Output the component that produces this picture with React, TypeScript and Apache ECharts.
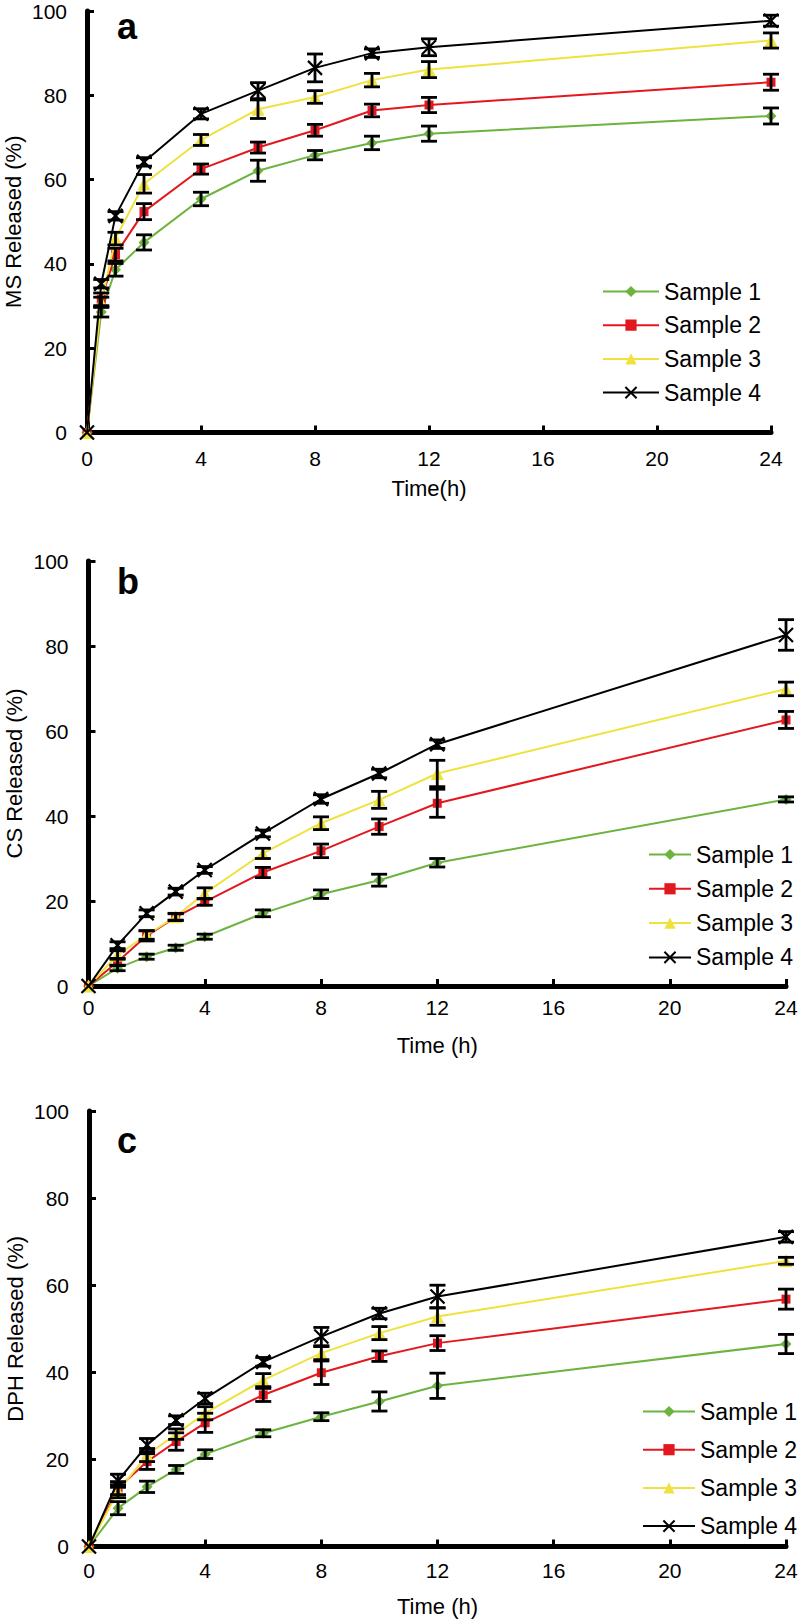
import React, { useEffect, useRef } from "react";
import * as echarts from "echarts";

const FONT = "'Liberation Sans', Arial, sans-serif";

const SAMPLE_NAMES = ["Sample 1", "Sample 2", "Sample 3", "Sample 4"];
const X_TICKS = [0, 4, 8, 12, 16, 20, 24];
const Y_TICKS = [0, 20, 40, 60, 80, 100];

// Panel a: MS
const TIME_A = [0, 0.5, 1, 2, 4, 6, 8, 10, 12, 24];
const MS_S1 = [0, 28.6, 38.6, 45.1, 55.4, 62.1, 65.8, 68.7, 70.9, 75.1];
const MS_S2 = [0, 31.6, 42.2, 52.4, 62.5, 67.6, 71.7, 76.4, 77.7, 83.1];
const MS_S3 = [0, 30.9, 46.0, 59.0, 69.4, 76.7, 79.6, 83.6, 86.1, 93.0];
const MS_S4 = [0, 35.3, 51.4, 64.2, 75.6, 81.1, 86.5, 90.0, 91.4, 97.7];
const MS_E1 = [0, 1.2, 1.5, 1.8, 1.6, 2.5, 1.1, 1.6, 1.8, 1.9];
const MS_E2 = [0, 1.5, 1.5, 1.9, 1.2, 1.3, 1.4, 1.5, 1.8, 1.9];
const MS_E3 = [0, 1.2, 1.5, 2.2, 1.3, 2.2, 1.5, 1.6, 1.9, 1.8];
const MS_E4 = [0, 1.0, 1.0, 1.0, 1.2, 1.9, 3.3, 1.0, 2.0, 1.3];

// Panel b: CS
const TIME_BC = [0, 1, 2, 3, 4, 6, 8, 10, 12, 24];
const CS_S1 = [0, 4.2, 6.9, 9.0, 11.6, 17.1, 21.6, 24.9, 29.0, 43.9];
const CS_S2 = [0, 5.7, 11.8, 16.2, 19.8, 26.7, 31.8, 37.5, 43.0, 62.6];
const CS_S3 = [0, 7.3, 12.0, 16.3, 21.8, 31.2, 38.3, 43.8, 50.0, 69.9];
const CS_S4 = [0, 9.6, 17.1, 22.2, 27.3, 35.9, 44.0, 50.0, 56.9, 82.6];
const CS_E1 = [0, 0.6, 0.6, 0.6, 0.6, 0.8, 1.0, 1.4, 1.0, 0.6];
const CS_E2 = [0, 0.8, 1.2, 0.8, 0.8, 1.2, 1.6, 1.8, 3.3, 2.0];
const CS_E3 = [0, 1.0, 1.0, 0.8, 1.3, 1.2, 1.5, 2.0, 3.1, 1.6];
const CS_E4 = [0, 0.8, 0.8, 0.8, 0.8, 0.8, 1.0, 1.0, 1.0, 3.6];

// Panel c: DPH
const DPH_S1 = [0, 8.8, 13.7, 17.7, 21.2, 26.0, 29.8, 33.3, 36.9, 46.5];
const DPH_S2 = [0, 13.4, 19.5, 24.1, 28.4, 34.8, 39.9, 43.7, 46.7, 56.8];
const DPH_S3 = [0, 12.7, 21.0, 25.8, 30.6, 38.2, 44.4, 49.0, 52.8, 65.6];
const DPH_S4 = [0, 15.1, 23.3, 29.0, 34.0, 42.4, 48.2, 53.5, 57.4, 71.1];
const DPH_E1 = [0, 1.5, 1.3, 0.9, 1.0, 0.8, 0.9, 2.2, 2.9, 2.2];
const DPH_E2 = [0, 1.5, 1.8, 2.0, 2.2, 1.5, 2.7, 1.2, 1.7, 2.3];
const DPH_E3 = [0, 1.5, 1.5, 1.2, 1.5, 1.5, 1.5, 1.5, 2.0, 0.8];
const DPH_E4 = [0, 1.5, 1.5, 1.0, 1.2, 1.0, 2.1, 1.2, 2.6, 1.2];

const COLORS = ["#6cb33f", "#e3181f", "#efe23e", "#000000"];
const SYMBOLS = ["diamond", "rect", "triangle", "path://M0,0L10,10M10,0L0,10"];
const SYMBOL_SIZES = [11, 9, 13, 14];

const PANELS = [
  {
    letter: "a",
    xName: "Time(h)",
    yName: "MS Released (%)",
    time: TIME_A,
    values: [MS_S1, MS_S2, MS_S3, MS_S4],
    errors: [MS_E1, MS_E2, MS_E3, MS_E4],
  },
  {
    letter: "b",
    xName: "Time (h)",
    yName: "CS Released (%)",
    time: TIME_BC,
    values: [CS_S1, CS_S2, CS_S3, CS_S4],
    errors: [CS_E1, CS_E2, CS_E3, CS_E4],
  },
  {
    letter: "c",
    xName: "Time (h)",
    yName: "DPH Released (%)",
    time: TIME_BC,
    values: [DPH_S1, DPH_S2, DPH_S3, DPH_S4],
    errors: [DPH_E1, DPH_E2, DPH_E3, DPH_E4],
  },
];

const LAYOUT = [
  { left: 87, width: 684, top: 11, height: 421.5, labelMargin: 15, nameGap: 45, legendLeft: 602, legendTop: 280, legendW: 56, legendGap: 10.7, letterY: 8 },
  { left: 88.5, width: 697.5, top: 561, height: 425, labelMargin: 11, nameGap: 48, legendLeft: 648, legendTop: 843, legendW: 42, legendGap: 11.3, letterY: 563 },
  { left: 89, width: 697, top: 1111, height: 435.5, labelMargin: 13, nameGap: 49, legendLeft: 642, legendTop: 1400, legendW: 52, legendGap: 15.2, letterY: 1122 },
];

function errorRenderItem(params: any, api: any) {
  const x = api.value(0);
  const lo = api.value(1);
  const hi = api.value(2);
  const a = api.coord([x, lo]);
  const b = api.coord([x, hi]);
  const w = 8;
  const style = { stroke: "#000", lineWidth: 2.8 };
  return {
    type: "group",
    children: [
      { type: "line", shape: { x1: a[0], y1: a[1], x2: b[0], y2: b[1] }, style },
      { type: "line", shape: { x1: a[0] - w, y1: a[1], x2: a[0] + w, y2: a[1] }, style },
      { type: "line", shape: { x1: b[0] - w, y1: b[1], x2: b[0] + w, y2: b[1] }, style },
    ],
  };
}

function buildOption() {
  const grid: any[] = [];
  const xAxis: any[] = [];
  const yAxis: any[] = [];
  const series: any[] = [];
  const legend: any[] = [];
  const graphic: any[] = [];

  PANELS.forEach((p, pi) => {
    const L = LAYOUT[pi];
    grid.push({
      left: L.left,
      top: L.top,
      width: L.width,
      height: L.height,
      containLabel: false,
      outerBoundsMode: "none",
    });
    xAxis.push({
      gridIndex: pi,
      type: "value",
      min: X_TICKS[0],
      max: X_TICKS[X_TICKS.length - 1],
      interval: X_TICKS[1] - X_TICKS[0],
      axisLine: { show: true, onZero: false, lineStyle: { color: "#000", width: 5 } },
      axisTick: { show: true, inside: true, length: 7, lineStyle: { color: "#000", width: 3 } },
      axisLabel: { color: "#000", fontSize: 21, fontFamily: FONT, margin: L.labelMargin },
      splitLine: { show: false },
      name: p.xName,
      nameLocation: "middle",
      nameGap: L.nameGap,
      nameMoveOverlap: false,
      nameTextStyle: { color: "#000", fontSize: 22, fontFamily: FONT },
    });
    yAxis.push({
      gridIndex: pi,
      type: "value",
      min: Y_TICKS[0],
      max: Y_TICKS[Y_TICKS.length - 1],
      interval: Y_TICKS[1] - Y_TICKS[0],
      axisLine: { show: true, onZero: false, lineStyle: { color: "#000", width: 5 } },
      axisTick: { show: true, inside: true, length: 7, lineStyle: { color: "#000", width: 3 } },
      axisLabel: { color: "#000", fontSize: 21, lineHeight: 18, fontFamily: FONT, margin: 20 },
      splitLine: { show: false },
      name: p.yName,
      nameLocation: "middle",
      nameGap: 63,
      nameMoveOverlap: false,
      nameTextStyle: { color: "#000", fontSize: 22, fontFamily: FONT },
    });

    p.values.forEach((vals, si) => {
      series.push({
        name: SAMPLE_NAMES[si],
        type: "line",
        xAxisIndex: pi,
        yAxisIndex: pi,
        data: p.time.map((t, i) => [t, vals[i]]),
        symbol: SYMBOLS[si],
        symbolSize: SYMBOL_SIZES[si],
        showAllSymbol: true,
        clip: false,
        z: 2 + si,
        itemStyle: {
          color: COLORS[si],
          borderColor: COLORS[si],
          borderWidth: si === 3 ? 2.2 : 0,
        },
        lineStyle: { color: COLORS[si], width: 2 },
      });
      const errs = p.errors[si];
      series.push({
        type: "custom",
        xAxisIndex: pi,
        yAxisIndex: pi,
        silent: true,
        z: 10,
        clip: false,
        encode: { x: 0, y: [1, 2] },
        data: p.time
          .map((t, i) => [t, vals[i] - errs[i], vals[i] + errs[i], errs[i]])
          .filter((d) => d[3] > 0),
        renderItem: errorRenderItem,
      });
    });

    legend.push({
      orient: "vertical",
      left: L.legendLeft,
      top: L.legendTop,
      padding: 0,
      itemWidth: L.legendW,
      itemHeight: 14,
      itemGap: L.legendGap,
      selectedMode: false,
      textStyle: { color: "#000", fontSize: 23, fontFamily: FONT, lineHeight: 23 },
      data: SAMPLE_NAMES,
    });

    graphic.push({
      type: "text",
      left: 117,
      top: L.letterY,
      style: {
        text: p.letter,
        fill: "#000",
        font: `bold 36px ${FONT}`,
      },
    });
  });

  return {
    animation: false,
    backgroundColor: "#fff",
    grid,
    xAxis,
    yAxis,
    series,
    legend,
    graphic,
  };
}

export default function App() {
  const ref = useRef<HTMLDivElement>(null);
  useEffect(() => {
    document.body.style.margin = "0";
    const chart = echarts.init(ref.current!, null, { renderer: "svg" });
    chart.setOption(buildOption() as any);
    return () => chart.dispose();
  }, []);
  return <div ref={ref} style={{ width: 799, height: 1619 }} />;
}
